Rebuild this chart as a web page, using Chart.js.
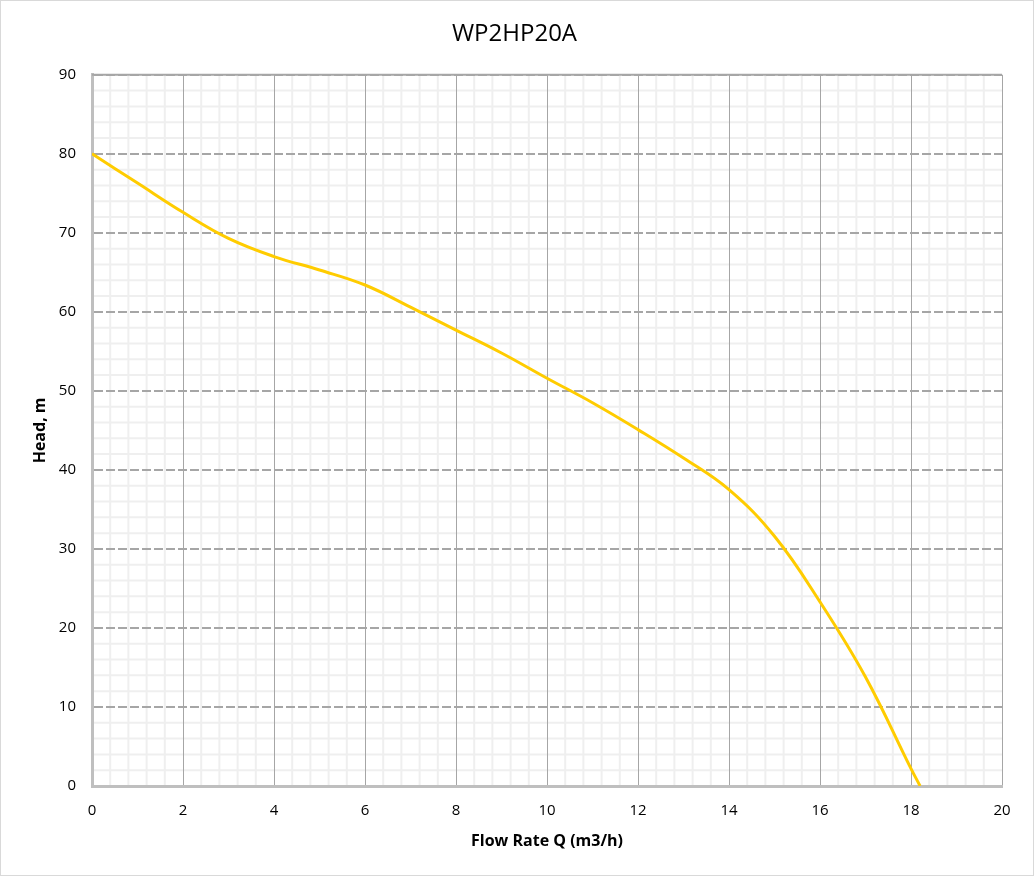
<!DOCTYPE html>
<html>
<head>
<meta charset="utf-8">
<title>WP2HP20A</title>
<script src="https://cdn.jsdelivr.net/npm/chart.js@4"></script>
<style>
  html, body { margin: 0; padding: 0; background: #fff; }
  #wrap { width: 1034px; height: 876px; }
</style>
</head>
<body>
<div id="wrap"><canvas id="pump" width="1034" height="876"></canvas></div>
<script>
// ── DATA ──────────────────────────────────────────────────
const flowRate = [0, 1, 2, 3, 4, 5, 6, 7, 8, 9, 10, 11, 12, 13, 14, 15, 16, 17, 18, 18.2];
const headM    = [80, 76.3, 72.6, 69.3, 67.0, 65.3, 63.4, 60.6, 57.7, 54.8, 51.6, 48.5, 45.1, 41.5, 37.5, 31.6, 23.3, 13.8, 2.2, 0];
const xTicks   = [0, 2, 4, 6, 8, 10, 12, 14, 16, 18, 20];
const yTicks   = [0, 10, 20, 30, 40, 50, 60, 70, 80, 90];

const FONT = "'Open Sans', 'Noto Sans', sans-serif";

// ── MINOR GRID + OUTER FRAME ──────────────────────────────
const minorGrid = {
  id: 'minorGrid',
  beforeDraw(chart) {
    const { ctx, chartArea: a, scales: { x, y } } = chart;
    ctx.save();
    ctx.strokeStyle = '#d9d9d9';
    ctx.lineWidth = 1;
    ctx.strokeRect(0.5, 0.5, chart.width - 1, chart.height - 1);

    ctx.strokeStyle = '#efefef';
    ctx.lineWidth = 2;
    ctx.beginPath();
    for (let i = 1; i < 50; i++) {
      if (i % 5 === 0) continue;
      const px = x.getPixelForValue(i * 0.4);
      ctx.moveTo(px, a.top); ctx.lineTo(px, a.bottom);
    }
    for (let j = 1; j < 45; j++) {
      if (j % 5 === 0) continue;
      const py = y.getPixelForValue(j * 2);
      ctx.moveTo(a.left, py); ctx.lineTo(a.right, py);
    }
    ctx.stroke();
    ctx.restore();
  },
  // top edge of the plot is a solid line, not dashed
  beforeDatasetsDraw(chart) {
    const { ctx, chartArea: a, scales: { y } } = chart;
    const py = y.getPixelForValue(90);
    ctx.save();
    ctx.strokeStyle = '#a6a6a6';
    ctx.lineWidth = 2;
    ctx.beginPath();
    ctx.moveTo(a.left, py); ctx.lineTo(a.right, py);
    ctx.stroke();
    ctx.restore();
  }
};

new Chart(document.getElementById('pump'), {
  type: 'scatter',
  data: {
    datasets: [{
      label: 'WP2HP20A',
      data: flowRate.map((q, i) => ({ x: q, y: headM[i] })),
      showLine: true,
      borderColor: '#ffcc00',
      borderWidth: 3,
      pointRadius: 0,
      tension: 0.4,
      fill: false,
    }]
  },
  options: {
    responsive: false,
    animation: false,
    devicePixelRatio: 1,
    layout: { padding: { left: 27, right: 32, top: 14, bottom: 25 } },
    plugins: {
      legend: { display: false },
      tooltip: { enabled: false },
      title: {
        display: true,
        text: 'WP2HP20A',
        color: '#000',
        font: { family: FONT, size: 24, weight: 'normal' },
        padding: { top: 6, bottom: 26 }
      }
    },
    scales: {
      x: {
        type: 'linear',
        min: 0, max: 20,
        afterBuildTicks: s => { s.ticks = xTicks.map(v => ({ value: v })); },
        afterFit: s => { s.height = 65; },
        grid: { color: '#a6a6a6', lineWidth: 1, drawTicks: false },
        border: { display: true, color: '#bfbfbf', width: 3 },
        ticks: { color: '#000', padding: 16, font: { family: FONT, size: 15 } },
        title: {
          display: true,
          text: 'Flow Rate Q (m3/h)',
          color: '#000',
          font: { family: FONT, size: 16, weight: 'bold' },
          padding: { top: 0, bottom: 0 }
        }
      },
      y: {
        type: 'linear',
        min: 0, max: 90,
        afterBuildTicks: s => { s.ticks = yTicks.map(v => ({ value: v })); },
        afterFit: s => { s.width = 65; },
        grid: { color: '#a6a6a6', lineWidth: 2, drawTicks: false },
        border: { display: true, color: '#bfbfbf', width: 3, dash: [9, 3] },
        ticks: { color: '#000', padding: 16, font: { family: FONT, size: 15 } },
        title: {
          display: true,
          text: 'Head, m',
          color: '#000',
          font: { family: FONT, size: 16, weight: 'bold' },
          padding: { top: 4, bottom: 0 }
        }
      }
    }
  },
  plugins: [minorGrid]
});
</script>
</body>
</html>
